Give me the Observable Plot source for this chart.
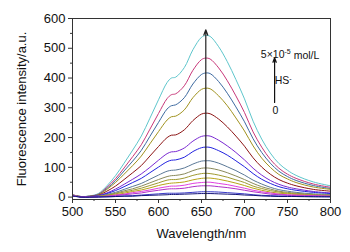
<!DOCTYPE html>
<html>
<head>
<meta charset="utf-8">
<script src="https://cdn.jsdelivr.net/npm/d3@7"></script>
<script src="https://cdn.jsdelivr.net/npm/@observablehq/plot@0.6"></script>
<style>
  html, body { margin: 0; padding: 0; background: #fff; }
  #chart { width: 350px; height: 252px; }
  svg { font-family: "Liberation Sans", Arial, sans-serif; }
</style>
</head>
<body>
<div id="chart"></div>
<script>
// Wavelength (nm) sample points
const wavelengths = [500,510,520,530,540,550,560,570,580,590,600,610,615,620,630,640,650,655,660,670,680,690,700,710,720,730,740,750,760,780,800];

// Fluorescence intensity (a.u.) per HS- concentration, highest first
const s15 = [8,2,4,12,38,72,114,158,205,265,327,385,400,403,435,495,537,543,540,505,455,395,330,255,195,148,113,90,73,51,38];
const s14 = [8,2,3,10,33,62,98,136,176,228,281,331,344,347,374,426,462,467,464,434,391,340,284,219,168,127,97,77,63,44,33];
const s13 = [7,2,3,9,29,55,88,121,157,204,251,296,307,310,334,380,412,417,415,388,349,303,253,196,150,114,87,69,56,39,29];
const s12 = [7,2,3,8,26,49,77,106,138,179,220,259,270,272,293,334,362,366,364,340,307,266,222,172,131,100,76,61,49,34,26];
const s11 = [6,1,2,6,20,37,59,82,106,138,170,200,208,209,226,257,279,282,280,262,236,205,171,132,101,77,59,47,38,26,20];
const s10 = [6,1,2,5,14,27,43,60,78,100,124,146,152,153,165,188,204,206,205,191,172,150,125,97,74,56,43,34,28,19,14];
const s9  = [6,1,2,4,12,22,35,49,63,82,101,119,124,125,134,153,166,168,167,156,141,122,102,79,60,46,35,28,23,16,12];
const s8  = [5,1,2,3,9,16,26,36,46,60,74,87,90,91,98,111,121,122,122,114,102,89,74,57,44,33,25,20,16,11,9];
const s7  = [5,1,1,3,7,13,21,28,37,48,59,69,72,73,78,89,97,98,97,91,82,71,59,46,35,27,20,16,13,9,7];
const s6  = [5,1,1,2,6,11,17,23,30,39,48,57,59,59,64,73,79,80,79,74,67,58,49,37,29,22,17,13,11,7,6];
const s5  = [5,1,1,2,4,8,13,19,24,31,39,45,47,48,51,58,63,64,64,60,54,47,39,30,23,17,13,11,9,6,4];
const s4  = [5,1,1,2,3,7,10,15,19,24,30,35,37,37,40,46,49,50,50,46,42,36,30,23,18,14,10,8,7,5,3];
const s3  = [4,1,1,1,3,5,8,11,14,19,23,27,28,28,30,35,38,38,38,35,32,28,23,18,14,10,8,6,5,4,3];
const s2  = [4,0,0,1,1,2,4,5,7,9,11,13,13,13,14,16,18,18,18,17,15,13,11,8,6,5,4,3,2,2,1];
const s1  = [4,0,0,0,1,2,3,3,5,6,7,8,9,9,10,11,12,12,12,11,10,9,7,6,4,3,2,2,2,1,1];

const seriesValues = [s15,s14,s13,s12,s11,s10,s9,s8,s7,s6,s5,s4,s3,s2,s1];
const seriesNames = ["c15","c14","c13","c12","c11","c10","c9","c8","c7","c6","c5","c4","c3","c2","c1"];
const seriesColors = ["#5ec6cc","#c8387a","#3d6aa0","#a0921e","#8c1414","#7a2ad2","#2222e0","#5a7896","#8a8a5a","#a09a30","#b8a418","#e040e0","#b030c8","#3838c8","#141478"];

// Tick labels
const xTicks = [500,550,600,650,700,750,800];
const xMinor = [525,575,625,675,725,775];
const yTicks = [0,100,200,300,400,500,600];
const yMinor = [50,150,250,350,450,550];

// Annotation
const arrowWave = [655];
const arrowTop = [562];
const legendText = ["5×10-5 mol/L","HS-","0"];
const legendX = [753, 745, 736];
const legendY = [480, 392, 289];
const legendArrow = {x: 735, y1: 318, y2: 468};

const rows = [];
seriesValues.forEach((vals, i) => {
  vals.forEach((v, j) => rows.push({series: seriesNames[i], wl: wavelengths[j], v}));
});

const chart = Plot.plot({
  width: 350,
  height: 252,
  marginLeft: 72,
  marginRight: 20,
  marginTop: 18,
  marginBottom: 53,
  style: {fontFamily: '"Liberation Sans", Arial, sans-serif', fontSize: "13px", background: "#fff", color: "#111"},
  x: {domain: [500, 800]},
  y: {domain: [-8, 600]},
  color: {domain: seriesNames, range: seriesColors},
  marks: [
    Plot.line(rows, {x: "wl", y: "v", z: "series", stroke: "series", strokeWidth: 1, curve: "catmull-rom"}),
    Plot.arrow(arrowWave, {x1: d => d, x2: d => d, y1: -8, y2: (d, i) => arrowTop[i], stroke: "#222", strokeWidth: 1.2, headLength: 7, headAngle: 40}),
    Plot.arrow([legendArrow], {x1: "x", x2: "x", y1: "y1", y2: "y2", stroke: "#111", strokeWidth: 1.2, headLength: 6, headAngle: 40}),
    Plot.text(legendText, {x: (d, i) => legendX[i], y: (d, i) => legendY[i], text: d => d, textAnchor: (d, i) => i === 1 ? "start" : "middle", fontSize: 10.5, fill: "#111", className: "annot"}),
    Plot.frame({stroke: "#333", strokeWidth: 1}),
    Plot.axisX({ticks: xTicks, tickSize: 4, tickPadding: 3, fontSize: 13, label: "Wavelength/nm", labelAnchor: "center", labelArrow: "none", labelOffset: 38, stroke: "#333"}),
    Plot.axisX({ticks: xMinor, tickSize: 2, tickFormat: () => "", label: null, stroke: "#333"}),
    Plot.axisY({ticks: yTicks, tickSize: 4, tickPadding: 3, fontSize: 13, label: "Fluorescence intensity/a.u.", labelAnchor: "center", labelArrow: "none", labelOffset: 56, stroke: "#333"}),
    Plot.axisY({ticks: yMinor, tickSize: 2, tickFormat: () => "", label: null, stroke: "#333"})
  ]
});
document.getElementById("chart").appendChild(chart);

// Render superscripts in annotation text
d3.select(chart).selectAll("g.annot text").each(function() {
  const t = d3.select(this);
  const s = t.text();
  if (s === "5×10-5 mol/L") {
    t.text(null);
    t.append("tspan").text("5×10");
    t.append("tspan").attr("dy", "-0.45em").attr("font-size", "7").text("-5");
    t.append("tspan").attr("dy", "0.45em").text(" mol/L");
  } else if (s === "HS-") {
    t.text(null);
    t.append("tspan").text("HS");
    t.append("tspan").attr("dy", "-0.45em").attr("font-size", "7").text("-");
  }
});
</script>
</body>
</html>
